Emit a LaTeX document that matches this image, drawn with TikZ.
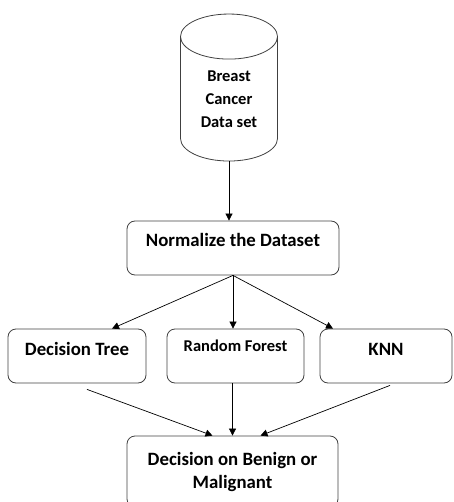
\documentclass[tikz,border=0pt]{standalone}
\usepackage{fontspec}
\setmainfont{Carlito}
\usepackage{tikz}
\usetikzlibrary{shapes.geometric,arrows.meta,positioning,calc}
\tikzset{
    store/.style={cylinder, shape border rotate=90, draw=black!75, line width=0.8pt, aspect=0.8, minimum height=147pt, minimum width=97pt, align=center, font=\fontsize{16.5}{23}\selectfont\bfseries, inner sep=0pt},
    box/.style={rectangle, draw=black!75, line width=0.8pt, rounded corners=8pt, align=center, font=\fontsize{18.8}{23}\selectfont\bfseries, inner xsep=0pt, inner ysep=0pt},
    flow/.style={-{Triangle[length=7pt,width=7pt]}, line width=0.7pt, black},
}

\begin{document}
\begin{tikzpicture}[x=1pt, y=-1pt]
    \useasboundingbox (0,0) rectangle (453,502);

    \node[store] (db) at (229,99) {Breast\\Cancer\\Data set};
    \node[box, minimum width=212pt, text height=25pt, text depth=29pt] (norm) at (233,248) {Normalize the Dataset};
    \node[box, minimum width=138pt, text height=26pt, text depth=28pt] (dt) at (77,356) {Decision Tree};
    \node[box, minimum width=137pt, text height=22pt, text depth=32pt, font=\fontsize{16.5}{20}\selectfont\bfseries] (rf) at (235.5,356) {Random Forest};
    \node[box, minimum width=132pt, text height=26pt, text depth=28pt] (knn) at (386,356) {KNN};
    \node[box, minimum width=211pt, minimum height=71pt] (dec) at (232.5,471.5) {Decision on Benign or\\Malignant};

    \draw[flow] (db.south) -- (db.south |- norm.north);
    \draw[flow] (norm.south) -- ([xshift=35pt]dt.north);
    \draw[flow] (norm.south) -- (norm.south |- rf.north);
    \draw[flow] (norm.south) -- ([xshift=-53pt]knn.north);
    \draw[flow] ([xshift=10pt,yshift=-6pt]dt.south) -- ([xshift=-20pt]dec.north);
    \draw[flow] (dec.north |- rf.south) -- (dec.north);
    \draw[flow] ([xshift=4pt,yshift=-2pt]knn.south) -- ([xshift=28pt]dec.north);
\end{tikzpicture}
\end{document}
